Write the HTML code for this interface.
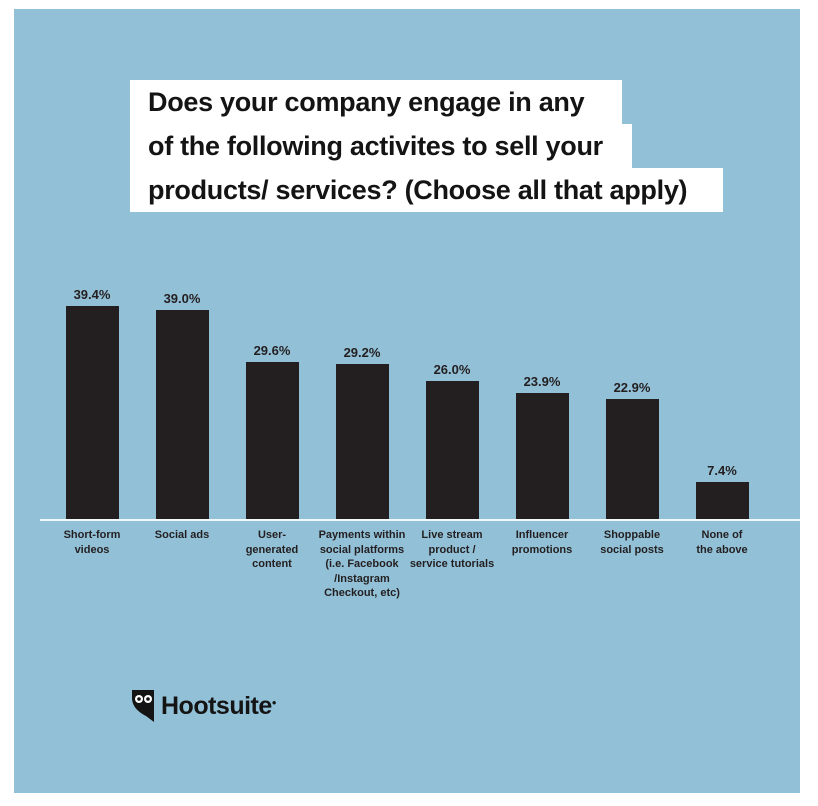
<!DOCTYPE html>
<html><head><style>
body{margin:0;width:818px;height:806px;background:#fff;position:relative;font-family:"Liberation Sans",sans-serif;overflow:hidden}
#p{position:absolute;left:14px;top:9px;width:786px;height:784px;background:#92c0d7}
.t{position:absolute;left:130px;background:#fff;height:44px;font-size:27px;line-height:44px;color:#141414;padding-left:18px;box-sizing:border-box;letter-spacing:-0.3px;font-weight:bold;transform-origin:left;}
.bar{position:absolute;width:53px;background:#231f20}
.v{position:absolute;width:90px;text-align:center;font-weight:bold;font-size:13px;color:#231f20}
.l{position:absolute;width:110px;text-align:center;font-weight:bold;font-size:11px;line-height:14.5px;color:#231f20;top:528px}
</style></head><body>
<div id="p"></div>
<div class="t" style="top:80px;width:492px">Does your company engage in any</div>
<div class="t" style="top:124px;width:502px">of the following activites to sell your</div>
<div class="t" style="top:168px;width:593px">products/ services? (Choose all that apply)</div>
<div style="position:absolute;left:40px;top:519px;width:760px;height:2px;background:#f2f7fa"></div>

<div class="bar" style="left:66px;top:306px;height:213px"></div>
<div class="bar" style="left:156px;top:310px;height:209px"></div>
<div class="bar" style="left:246px;top:362px;height:157px"></div>
<div class="bar" style="left:336px;top:364px;height:155px"></div>
<div class="bar" style="left:426px;top:381px;height:138px"></div>
<div class="bar" style="left:516px;top:393px;height:126px"></div>
<div class="bar" style="left:606px;top:399px;height:120px"></div>
<div class="bar" style="left:696px;top:482px;height:37px"></div>

<div class="v" style="left:47px;top:287px">39.4%</div>
<div class="v" style="left:137px;top:291px">39.0%</div>
<div class="v" style="left:227px;top:343px">29.6%</div>
<div class="v" style="left:317px;top:345px">29.2%</div>
<div class="v" style="left:407px;top:362px">26.0%</div>
<div class="v" style="left:497px;top:374px">23.9%</div>
<div class="v" style="left:587px;top:380px">22.9%</div>
<div class="v" style="left:677px;top:463px">7.4%</div>

<div class="l" style="left:37px">Short-form<br>videos</div>
<div class="l" style="left:127px">Social ads</div>
<div class="l" style="left:217px">User-<br>generated<br>content</div>
<div class="l" style="left:307px">Payments within<br>social platforms<br>(i.e. Facebook<br>/Instagram<br>Checkout, etc)</div>
<div class="l" style="left:397px">Live stream<br>product /<br>service tutorials</div>
<div class="l" style="left:487px">Influencer<br>promotions</div>
<div class="l" style="left:577px">Shoppable<br>social posts</div>
<div class="l" style="left:667px">None of<br>the above</div>

<svg style="position:absolute;left:132px;top:690px" width="24" height="32" viewBox="0 0 24 32">
<path d="M0 0 L22 0 L22 32 L14 26 C6 22 0 16 0 8 Z" fill="#141414"/>
<circle cx="7" cy="9" r="4" fill="#fff"/><circle cx="16" cy="9" r="4" fill="#fff"/>
<circle cx="7" cy="9" r="1.8" fill="#141414"/><circle cx="16" cy="9" r="1.8" fill="#141414"/>
</svg>
<div style="position:absolute;left:161px;top:692px;font-size:25px;font-weight:bold;color:#141414;letter-spacing:-0.5px">Hootsuite<span style="font-size:8px;vertical-align:top;position:relative;top:6px">●</span></div>
</body></html>
